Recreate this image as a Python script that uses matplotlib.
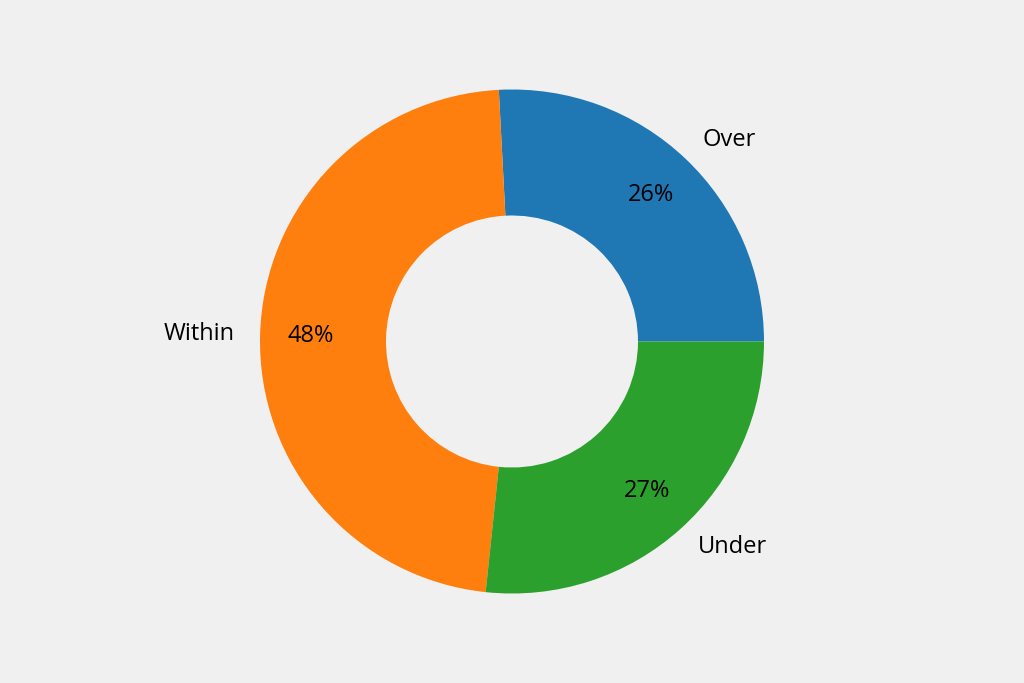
import matplotlib
matplotlib.use('Agg')
import matplotlib.pyplot as plt

labels = ['Over', 'Within', 'Under']
counts = [31, 57, 32]
colors = ['#1f77b4', '#ff7f0e', '#2ca02c']

plt.rcParams['font.family'] = ['Open Sans', 'DejaVu Sans']

fig = plt.figure(figsize=(10.24, 6.83), dpi=100)
fig.patch.set_facecolor('#f0f0f0')
ax = fig.add_axes([0, 0, 1, 1])
ax.set_facecolor('#f0f0f0')

wedges, texts, autotexts = ax.pie(
    counts, labels=labels, colors=colors, startangle=0, counterclock=True,
    autopct=lambda p: '%d%%' % int(p + 0.5001), pctdistance=0.8, labeldistance=1.1,
    wedgeprops=dict(width=0.5), textprops=dict(fontsize=17, color='black'))

r = 252.0
ax.set_xlim(-512 / r, 512 / r)
ax.set_ylim(-341.5 / r, 341.5 / r)
ax.set_aspect('equal')
ax.axis('off')

fig.savefig('out.png', dpi=100, facecolor=fig.get_facecolor())
